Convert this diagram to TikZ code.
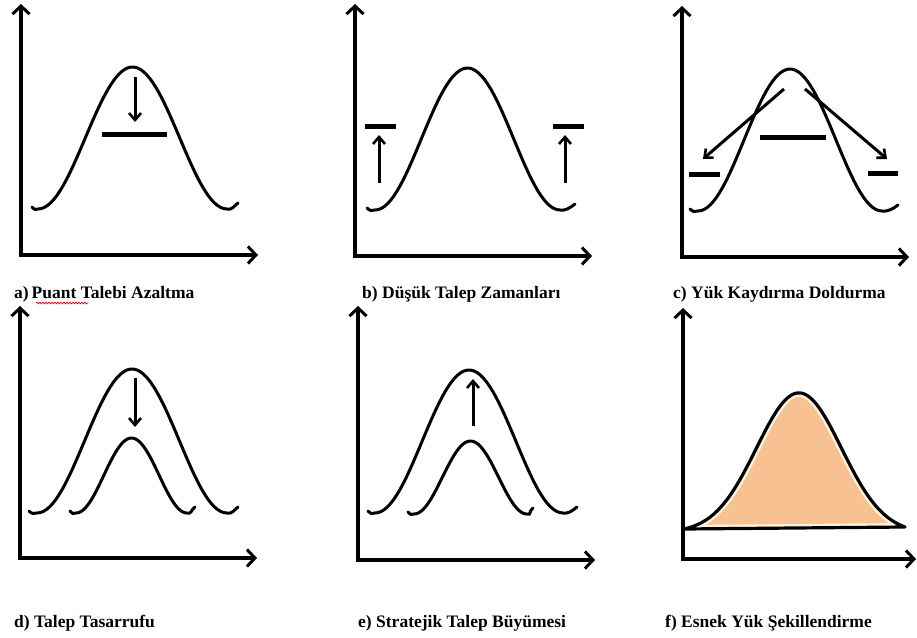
\documentclass[tikz,border=0pt]{standalone}
\usepackage{fontspec}
\setmainfont{Liberation Serif}
\usetikzlibrary{arrows.meta,decorations.pathmorphing}
\definecolor{peach}{RGB}{248,193,146}
\definecolor{glow}{RGB}{255,242,220}
\tikzset{
  axes/.style={line width=3.3pt, line join=miter,
    {Straight Barb[length=8pt,width=17pt,line width=3pt]}-{Straight Barb[length=8pt,width=17pt,line width=3pt]}},
  curve/.style={line width=3pt, line cap=round},
  smallarrow/.style={line width=3pt, -{Straight Barb[length=7pt,width=12pt,line width=2.6pt]}},
  bar/.style={line width=5pt},
  lbl/.style={anchor=west, inner sep=0pt, font=\fontsize{17.5}{19}\selectfont\bfseries}
}
\newcommand\bellc[6]{%
  \draw[curve] (#1,#5-2) .. controls (#1+3,#5+1) and (#2-3,#5+1) .. (#2,#5)
    -- plot[domain=0:1,samples=60] ({#2+\x*(#3-#2)},{#5-(#5-#6)*(1-cos(360*\x))/2})
    .. controls (#3+5,#5+1) and (#4-5,#5-2) .. (#4,#5-6);}
\begin{document}
\begin{tikzpicture}[x=1pt,y=-1pt]
\useasboundingbox (0,0) rectangle (917,637);
% ---------- a
\coordinate (aO) at (21,255); \coordinate (aY) at (21,4); \coordinate (aX) at (258,255);
\draw[axes] (aY) -- (aO) -- (aX);
\bellc{32}{38}{227}{238}{209}{67}
\coordinate (aA1) at (135,77); \coordinate (aA2) at (135,122);
\draw[smallarrow] (aA1) -- (aA2);
\coordinate (aB1) at (102,134); \coordinate (aB2) at (167,134);
\draw[bar] (aB1) -- (aB2);
\node[lbl] (la) at (14,294) {a)\,Puant Talebi Azaltma};
\coordinate (sq1) at (36,303); \coordinate (sq2) at (88,303);
\draw[red, line width=0.7pt, decorate, decoration={snake,amplitude=0.9pt,segment length=3pt}] (sq1) -- (sq2);
% ---------- b
\coordinate (bO) at (355,256); \coordinate (bY) at (355,4); \coordinate (bX) at (592,256);
\draw[axes] (bY) -- (bO) -- (bX);
\bellc{367}{375}{560}{575}{210}{68}
\coordinate (bL1) at (365,126); \coordinate (bL2) at (396,126);
\coordinate (bR1) at (553,126); \coordinate (bR2) at (584,126);
\draw[bar] (bL1) -- (bL2); \draw[bar] (bR1) -- (bR2);
\coordinate (bA1) at (379,183); \coordinate (bA2) at (379,135);
\coordinate (bA3) at (565,183); \coordinate (bA4) at (565,135);
\draw[smallarrow] (bA1) -- (bA2); \draw[smallarrow] (bA3) -- (bA4);
\node[lbl] (lb) at (362,294) {b) Düşük Talep Zamanları};
% ---------- c
\coordinate (cO) at (682,257); \coordinate (cY) at (682,6); \coordinate (cX) at (909,257);
\draw[axes] (cY) -- (cO) -- (cX);
\bellc{690}{698}{882}{898}{211}{69}
\coordinate (cM1) at (760,137); \coordinate (cM2) at (826,137);
\draw[bar] (cM1) -- (cM2);
\coordinate (cL1) at (689,174); \coordinate (cL2) at (720,174);
\coordinate (cR1) at (868,173); \coordinate (cR2) at (898,173);
\draw[bar] (cL1) -- (cL2); \draw[bar] (cR1) -- (cR2);
\coordinate (cA1) at (784,89); \coordinate (cA2) at (703,159);
\coordinate (cA3) at (805,89); \coordinate (cA4) at (887,159);
\draw[smallarrow] (cA1) -- (cA2); \draw[smallarrow] (cA3) -- (cA4);
\node[lbl] (lc) at (673,294) {c) Yük Kaydırma Doldurma};
% ---------- d
\coordinate (dO) at (20,558); \coordinate (dY) at (20,306); \coordinate (dX) at (257,558);
\draw[axes] (dY) -- (dO) -- (dX);
\bellc{29}{37}{227}{238}{513}{369}
\bellc{70}{76}{187}{195}{513}{438}
\coordinate (dA1) at (135,378); \coordinate (dA2) at (135,427);
\draw[smallarrow] (dA1) -- (dA2);
\node[lbl] (ld) at (14,623) {d) Talep Tasarrufu};
% ---------- e
\coordinate (eO) at (358,560); \coordinate (eY) at (358,306); \coordinate (eX) at (595,560);
\draw[axes] (eY) -- (eO) -- (eX);
\bellc{368}{375}{563}{577}{513}{370}
\bellc{408}{414}{527}{533}{514}{441}
\coordinate (eA1) at (473,426); \coordinate (eA2) at (473,379);
\draw[smallarrow] (eA1) -- (eA2);
\node[lbl] (le) at (358,623) {e) Stratejik Talep Büyümesi};
% ---------- f
\coordinate (fO) at (683,559); \coordinate (fY) at (683,308); \coordinate (fX) at (916,559);
\def\fpath{(684,529) -- plot[domain=684:905,samples=100] (\x,{529-2*(\x-684)/221-140*(exp(-((\x-799)/60)^2)-(0.0254*(905-\x)+0.0441*(\x-684))/221)}) -- cycle}
\fill[peach] \fpath;
\begin{scope}
  \clip \fpath;
  \draw[glow, line width=8pt] \fpath;
\end{scope}
\draw[line width=3.2pt, line join=round] \fpath;
\draw[axes] (fY) -- (fO) -- (fX);
\node[lbl] (lf) at (665,623) {f) Esnek Yük Şekillendirme};
\end{tikzpicture}
\end{document}
